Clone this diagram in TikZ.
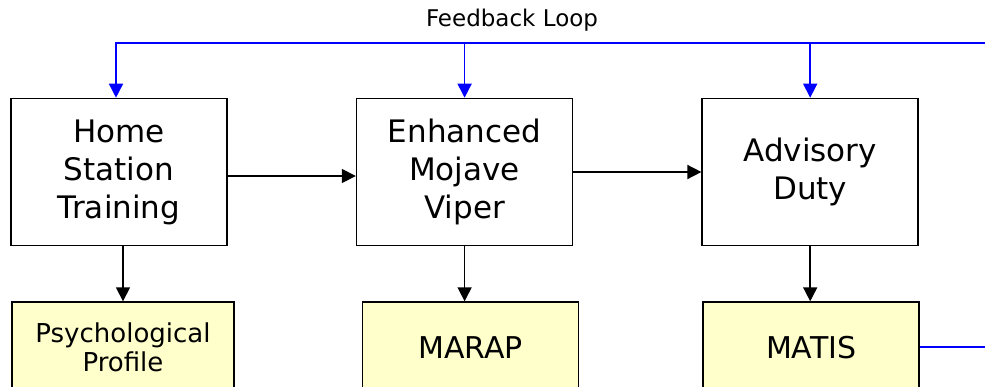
\documentclass[tikz,border=0pt]{standalone}
\usepackage{fontspec}
\setmainfont{DejaVu Sans}
\usetikzlibrary{positioning}
\usetikzlibrary{arrows.meta}
\definecolor{paleyellow}{HTML}{FFFFCC}

\begin{document}
\begin{tikzpicture}[x=1pt,y=-1pt,>={Triangle[length=14pt,width=14pt]},
    stage/.style={draw,line width=1.6pt,minimum width=216pt,minimum height=147pt,
        align=center,inner sep=0pt,font=\fontsize{31}{38}\selectfont},
    tool/.style={draw,line width=1.6pt,fill=paleyellow,minimum width=216pt,
        minimum height=90pt,align=center,inner sep=0pt,font=\fontsize{30}{30}\selectfont},
    flow/.style={line width=1.6pt,->},
    fb/.style={blue,line width=1.6pt}]
    \useasboundingbox (0,0) rectangle (985,386);
    \clip (0,0) rectangle (985,386);

    \node[stage] (hst) at (119,172) {Home\\Station\\Training};
    \node[stage] (emv) [right=128pt of hst] {Enhanced\\Mojave\\Viper};
    \node[stage] (adv) [right=128pt of emv] {Advisory\\Duty};

    \node[tool,minimum width=222pt,font=\fontsize{26}{29}\selectfont] (psych)
        [below=55pt of hst,xshift=4pt] {Psychological\\Profile};
    \node[tool] (marap) [below=55pt of emv,xshift=6pt] {MARAP};
    \node[tool] (matis) [below=55pt of adv,xshift=1pt] {MATIS};

    \draw [flow] ([yshift=-4pt]hst.east) -- ([yshift=-4pt]hst.east -| emv.west);
    \draw [flow] (emv.east) -- (emv.east -| adv.west);
    \draw [flow] (hst.south -| psych.north) -- (psych.north);
    \draw [flow] (emv.south) -- (emv.south |- marap.north);
    \draw [flow] (adv.south) -- (adv.south |- matis.north);

    % feedback loop
    \coordinate (fbtop) at (1000,43);
    \node (fblabel) at (512,20) {\fontsize{23}{26}\selectfont Feedback Loop};
    \draw [fb,->] (matis.east) -| (fbtop) -| ([xshift=-3pt]hst.north);
    \draw [fb,->] (emv.north |- fbtop) -- (emv.north);
    \draw [fb,->] (adv.north |- fbtop) -- (adv.north);
\end{tikzpicture}
\end{document}
